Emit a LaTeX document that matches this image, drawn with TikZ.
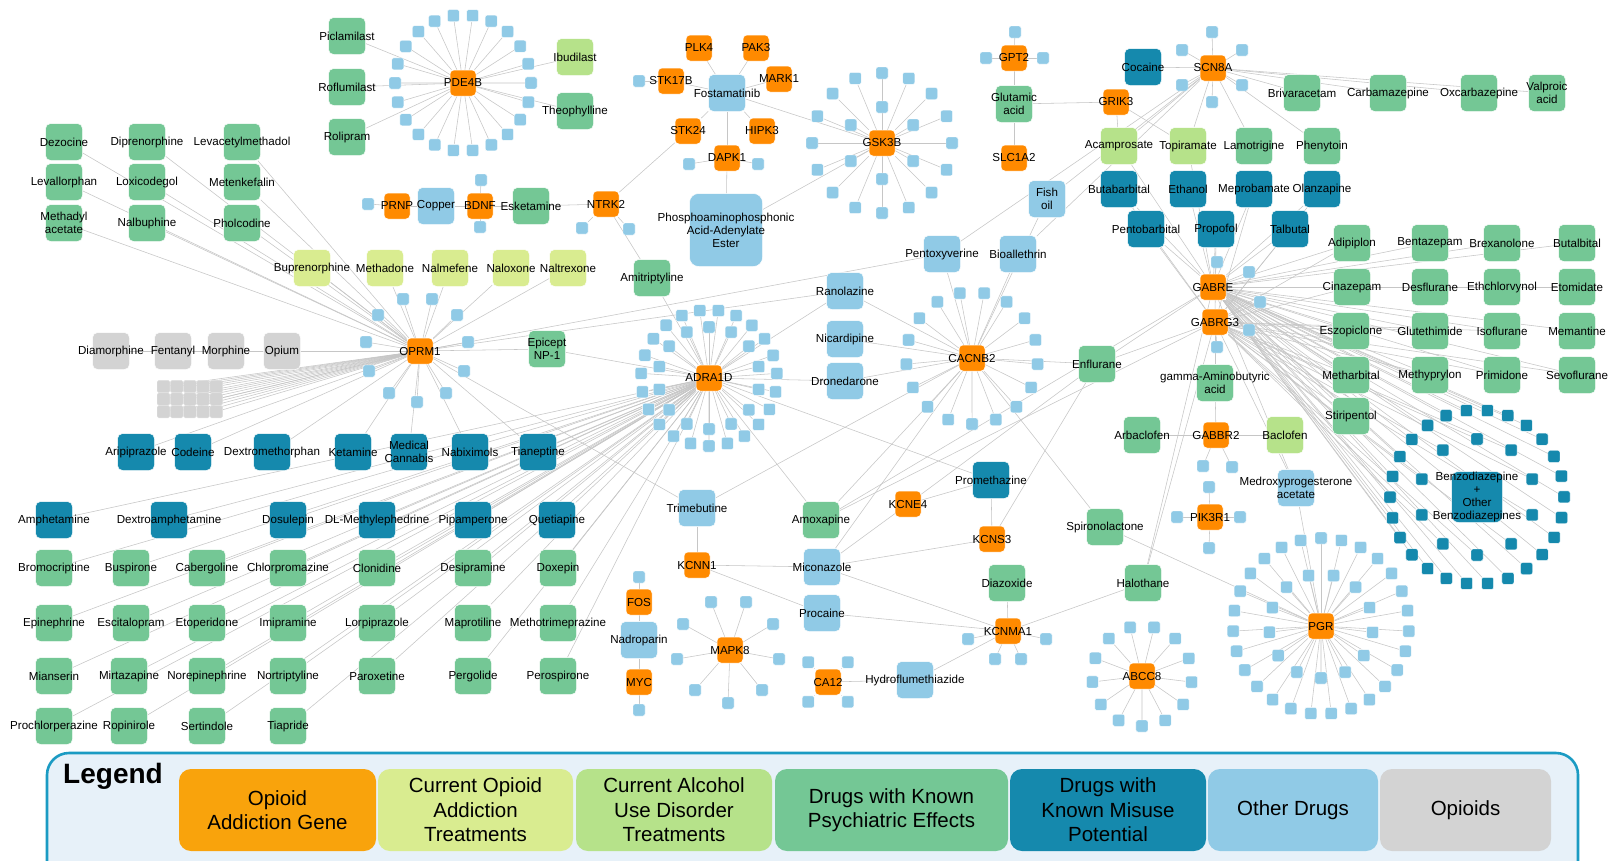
\documentclass[tikz,border=0pt]{standalone}
\usepackage{fontspec}
\setmainfont{Liberation Sans}
\usetikzlibrary{calc}
\pgfdeclarelayer{back}
\pgfdeclarelayer{bg}
\pgfsetlayers{back,bg,main}
\definecolor{cgene}{HTML}{FF8A00}
\definecolor{copt}{HTML}{D9EC90}
\definecolor{calco}{HTML}{B6E28A}
\definecolor{cpsy}{HTML}{74C795}
\definecolor{cmis}{HTML}{1589AD}
\definecolor{coth}{HTML}{90CAE6}
\definecolor{cgry}{HTML}{D3D3D3}
\definecolor{cedge}{HTML}{C6C6C6}
\definecolor{legb}{HTML}{1B9BC3}
\definecolor{legf}{HTML}{E7F1F9}
\definecolor{lgene}{HTML}{F9A30C}
\newcommand\nd[5]{\node[#1,label={[lbl]center:{#5}}] (#2) at (#3,#4) {};}
\newcommand\satring[6]{\foreach \i in {1,...,#3}{\node[#6] (#2\i) at ($(#1.center)+({#5+360*(\i-1)/#3}:#4pt)$) {};}}
\newcommand\sats[2]{\foreach \x/\y [count=\k] in {#2}{\node[sat] (#1\k) at (\x,\y) {};}}
\newcommand\spokes[3]{\foreach \i in {1,...,#3}{\draw[edge] (#1) -- (#2\i);}}
\newcommand\ed[2]{\foreach \tg in {#2}{\draw[edge] (#1) -- (\tg);}}
\begin{document}
\begin{tikzpicture}[x=1pt,y=-1pt,
  box/.style={rectangle,rounded corners=5pt,minimum width=37pt,minimum height=37pt,inner sep=0pt,draw=white,line width=0.5pt},
  psy/.style={box,fill=cpsy}, mis/.style={box,fill=cmis}, oth/.style={box,fill=coth},
  opt/.style={box,fill=copt}, alc/.style={box,fill=calco}, gry/.style={box,fill=cgry},
  gene/.style={box,fill=cgene,minimum width=26pt,minimum height=26pt,rounded corners=4pt},
  sat/.style={rectangle,rounded corners=2pt,minimum width=12pt,minimum height=12pt,inner sep=0pt,fill=coth,draw=white,line width=0.4pt},
  satd/.style={sat,fill=cmis},
  gsq/.style={rectangle,rounded corners=1.5pt,minimum width=12.6pt,minimum height=12.2pt,inner sep=0pt,fill=cgry,draw=white!88!black,line width=0.4pt},
  lbl/.style={font=\fontsize{11.6}{13}\selectfont,align=center,inner sep=0pt,text=black},
  edge/.style={draw=cedge,line width=0.55pt},
  lgb/.style={rectangle,rounded corners=12pt,minimum height=82pt,inner sep=0pt,align=center,font=\fontsize{20.5}{24.5}\selectfont}]
\useasboundingbox (0,0) rectangle (1608,860);
\begin{pgfonlayer}{back}
\fill[white] (0,0) rectangle (1608,860);
\end{pgfonlayer}
% ---------- top-left opioid-related drugs
\nd{psy}{dez}{64}{142}{Dezocine}
\nd{psy}{lev}{64}{182}{Levallorphan}
\nd{psy}{mac}{64}{223}{Methadyl\\acetate}
\nd{psy}{dip}{147}{142}{Diprenorphine}
\nd{psy}{lox}{147}{182}{Loxicodegol}
\nd{psy}{nal}{147}{223}{Nalbuphine}
\nd{psy}{lam}{242}{142}{Levacetylmethadol}
\nd{psy}{met}{242}{182}{Metenkefalin}
\nd{psy}{pho}{242}{223}{Pholcodine}
\nd{opt}{bup}{312}{268}{Buprenorphine}
\nd{opt}{mtd}{385}{268}{Methadone}
\nd{opt}{nmf}{450}{268}{Nalmefene}
\nd{opt}{nlx}{511}{268}{Naloxone}
\nd{opt}{ntx}{568}{268}{Naltrexone}
% ---------- PDE4B
\nd{psy}{pic}{347}{36}{Piclamilast}
\nd{psy}{rof}{347}{87}{Roflumilast}
\nd{psy}{rol}{347}{137}{Rolipram}
\nd{gene}{pde}{463}{83}{PDE4B}
\nd{alc}{ibu}{575}{57}{Ibudilast}
\nd{psy}{the}{575}{111}{Theophylline}
\satring{pde}{pd}{22}{68}{98.2}{sat}
% ---------- PRNP / BDNF / NTRK2
\nd{gene}{prnp}{397}{206}{PRNP}
\sats{prs}{368/204}
\nd{oth}{cop}{436}{206}{Copper}
\nd{gene}{bdnf}{480}{206}{BDNF}
\sats{bd}{481/180,480/227}
\nd{psy}{esk}{531}{206}{Esketamine}
\nd{gene}{ntrk}{606}{204}{NTRK2}
\sats{nt}{582/228,629/229}
\nd{psy}{ami}{652}{278}{Amitriptyline}
% ---------- Fostamatinib
\nd{oth}{fost}{727}{93}{Fostamatinib}
\nd{gene}{plk}{699}{48}{PLK4}
\nd{gene}{pak}{756}{48}{PAK3}
\nd{gene}{stkb}{671}{81}{STK17B}
\sats{sk}{639/81}
\nd{gene}{mark}{779}{79}{MARK1}
\nd{gene}{stkf}{688}{131}{STK24}
\nd{gene}{hipk}{762}{131}{HIPK3}
\nd{gene}{dapk}{727}{158}{DAPK1}
\sats{dp}{689/164,758/164}
\node[oth,minimum width=73pt,minimum height=73pt,rounded corners=9pt,label={[lbl]center:{Phosphoaminophosphonic\\Acid-Adenylate\\Ester}}] (paa) at (726,230) {};
% ---------- GSK3B
\nd{gene}{gsk}{882}{143}{GSK3B}
\satring{gsk}{gk}{16}{70}{90}{sat}
\satring{gsk}{gi}{6}{36}{90}{sat}
% ---------- GPT2 / glutamate
\nd{gene}{gpt}{1014}{58}{GPT2}
\sats{gp}{1015/32,986/58,1043/58}
\nd{psy}{glu}{1014}{104}{Glutamic\\acid}
\nd{gene}{slc}{1014}{158}{SLC1A2}
\nd{gene}{grik}{1116}{102}{GRIK3}
% ---------- SCN8A
\nd{mis}{coc}{1143}{67}{Cocaine}
\nd{gene}{scn}{1213}{68}{SCN8A}
\sats{sc}{1212/32,1242/50,1242/85,1212/102,1182/50,1182/85}
\nd{psy}{bri}{1302}{93}{Brivaracetam}
\nd{psy}{car}{1388}{93}{Carbamazepine}
\nd{psy}{oxc}{1479}{93}{Oxcarbazepine}
\nd{psy}{val}{1547}{93}{Valproic\\acid}
\nd{alc}{aca}{1119}{146}{Acamprosate}
\nd{alc}{top}{1188}{146}{Topiramate}
\nd{psy}{lmt}{1254}{146}{Lamotrigine}
\nd{psy}{phe}{1322}{146}{Phenytoin}
\nd{mis}{but}{1119}{189}{Butabarbital}
\nd{mis}{eth}{1188}{189}{Ethanol}
\nd{mis}{mep}{1254}{189}{Meprobamate}
\nd{mis}{ola}{1322}{189}{Olanzapine}
\nd{mis}{pen}{1146}{229}{Pentobarbital}
\nd{mis}{pro}{1216}{229}{Propofol}
\nd{mis}{tal}{1290}{229}{Talbutal}
\nd{oth}{fish}{1047}{199}{Fish\\oil}
\nd{oth}{pxv}{942}{254}{Pentoxyverine}
\nd{oth}{bio}{1018}{254}{Bioallethrin}
% ---------- right grid
\nd{psy}{adi}{1352}{243}{Adipiplon}
\nd{psy}{ben}{1430}{243}{Bentazepam}
\nd{psy}{bre}{1502}{243}{Brexanolone}
\nd{psy}{bub}{1577}{243}{Butalbital}
\nd{psy}{cin}{1352}{287}{Cinazepam}
\nd{psy}{dsf}{1430}{287}{Desflurane}
\nd{psy}{ech}{1502}{287}{Ethchlorvynol}
\nd{psy}{etm}{1577}{287}{Etomidate}
\nd{psy}{esz}{1351}{331}{Eszopiclone}
\nd{psy}{glt}{1430}{331}{Glutethimide}
\nd{psy}{iso}{1502}{331}{Isoflurane}
\nd{psy}{mem}{1577}{331}{Memantine}
\nd{psy}{mtb}{1351}{375}{Metharbital}
\nd{psy}{mpy}{1430}{375}{Methyprylon}
\nd{psy}{pri}{1502}{375}{Primidone}
\nd{psy}{sev}{1577}{375}{Sevoflurane}
\nd{psy}{sti}{1351}{416}{Stiripentol}
% ---------- GABA genes
\nd{gene}{gabre}{1213}{287}{GABRE}
\nd{gene}{gabrg}{1215}{322}{GABRG3}
\sats{ge}{1217/262,1249/272}
\sats{gg}{1260/302,1249/330,1217/347}
\nd{psy}{gaba}{1215}{383}{gamma-Aminobutyric\\acid}
\nd{gene}{gabbr}{1216}{435}{GABBR2}
\sats{gb}{1203/466,1232/467}
\nd{psy}{arb}{1142}{435}{Arbaclofen}
\nd{alc}{bac}{1285}{435}{Baclofen}
\nd{oth}{mdx}{1296}{488}{Medroxyprogesterone\\acetate}
\nd{gene}{pik}{1210}{517}{PIK3R1}
\sats{pk}{1209/487,1240/517,1209/548,1177/517}
\node[mis,minimum width=51pt,minimum height=51pt,rounded corners=7pt,label={[lbl]center:{Benzodiazepine\\+\\Other\\Benzodiazepines}}] (bz) at (1477,497) {};
\satring{bz}{bo}{26}{87}{97}{satd}
\satring{bz}{bi}{10}{58}{90}{satd}
% ---------- PGR / ABCC8
\nd{gene}{pgr}{1321}{626}{PGR}
\satring{pgr}{po}{27}{88}{90}{sat}
\satring{pgr}{pi}{13}{52}{103.8}{sat}
\nd{gene}{abcc}{1142}{676}{ABCC8}
\satring{abcc}{ab}{13}{50}{103.8}{sat}
% ---------- CACNB2 and channel genes
\nd{oth}{ran}{845}{291}{Ranolazine}
\nd{oth}{nic}{845}{339}{Nicardipine}
\nd{oth}{dro}{845}{381}{Dronedarone}
\nd{gene}{cac}{972}{358}{CACNB2}
\satring{cac}{cb}{17}{66}{100.6}{sat}
\nd{psy}{enf}{1097}{364}{Enflurane}
\nd{mis}{prm}{991}{480}{Promethazine}
\nd{gene}{kcne}{908}{504}{KCNE4}
\nd{gene}{kcns}{992}{539}{KCNS3}
\nd{psy}{amo}{821}{520}{Amoxapine}
\nd{psy}{spi}{1105}{527}{Spironolactone}
\nd{oth}{mic}{822}{567}{Miconazole}
\nd{oth}{prc}{822}{613}{Procaine}
\nd{psy}{dzx}{1007}{583}{Diazoxide}
\nd{psy}{hal}{1143}{583}{Halothane}
\nd{gene}{kcnm}{1008}{631}{KCNMA1}
\sats{km}{968/639,1046/639,995/659,1021/659}
\nd{gene}{ca}{828}{682}{CA12}
\satring{ca}{cs}{4}{28}{45}{sat}
\nd{oth}{hyd}{915}{680}{Hydroflumethiazide}
% ---------- ADRA1D and neighbours
\nd{psy}{epc}{547}{349}{Epicept\\NP-1}
\nd{gene}{adra}{709}{378}{ADRA1D}
\satring{adra}{ao}{23}{68}{97.8}{sat}
\satring{adra}{ai}{14}{51}{90}{sat}
\nd{oth}{tri}{697}{508}{Trimebutine}
\nd{gene}{kcnn}{697}{565}{KCNN1}
\nd{gene}{fosg}{639}{602}{FOS}
\sats{fs}{639/577}
\nd{oth}{nad}{639}{640}{Nadroparin}
\nd{gene}{myc}{639}{682}{MYC}
\sats{my}{639/710}
\nd{gene}{mapk}{730}{650}{MAPK8}
\sats{mk}{711/602,746/602,683/624,773/624,677/659,779/659,695/690,762/690,728/703}
% ---------- OPRM1
\nd{gene}{oprm}{420}{351}{OPRM1}
\sats{op}{403/299,432/299,378/315,457/315,366/342,468/342,369/371,464/371,389/393,446/393,417/402}
\nd{gry}{dia}{111}{351}{Diamorphine}
\nd{gry}{fen}{173}{351}{Fentanyl}
\nd{gry}{mor}{226}{351}{Morphine}
\nd{gry}{opi}{282}{351}{Opium}
\foreach \cc in {0,...,4}{\foreach \rr in {0,1,2}{\node[gsq] (g\cc\rr) at ({163.5+13.2*\cc},{386.5+12.6*\rr}) {};}}
% ---------- bottom-left grid
\nd{mis}{ari}{136}{452}{Aripiprazole}
\nd{mis}{cod}{193}{452}{Codeine}
\nd{mis}{dxm}{272}{452}{Dextromethorphan}
\nd{mis}{ket}{353}{452}{Ketamine}
\nd{mis}{mca}{409}{452}{Medical\\Cannabis}
\nd{mis}{nab}{470}{452}{Nabiximols}
\nd{mis}{tia}{538}{452}{Tianeptine}
\nd{mis}{amp}{54}{520}{Amphetamine}
\nd{mis}{dxa}{169}{520}{Dextroamphetamine}
\nd{mis}{dos}{288}{520}{Dosulepin}
\nd{mis}{dlm}{377}{520}{DL-Methylephedrine}
\nd{mis}{pip}{473}{520}{Pipamperone}
\nd{mis}{que}{557}{520}{Quetiapine}
\nd{psy}{bro}{54}{568}{Bromocriptine}
\nd{psy}{bus}{131}{568}{Buspirone}
\nd{psy}{cab}{207}{568}{Cabergoline}
\nd{psy}{chl}{288}{568}{Chlorpromazine}
\nd{psy}{clo}{377}{568}{Clonidine}
\nd{psy}{des}{473}{568}{Desipramine}
\nd{psy}{dox}{558}{568}{Doxepin}
\nd{psy}{epn}{54}{623}{Epinephrine}
\nd{psy}{esc}{131}{623}{Escitalopram}
\nd{psy}{eto}{207}{623}{Etoperidone}
\nd{psy}{imi}{288}{623}{Imipramine}
\nd{psy}{lor}{377}{623}{Lorpiprazole}
\nd{psy}{map}{473}{623}{Maprotiline}
\nd{psy}{mtm}{558}{623}{Methotrimeprazine}
\nd{psy}{mia}{54}{676}{Mianserin}
\nd{psy}{mir}{129}{676}{Mirtazapine}
\nd{psy}{nor}{207}{676}{Norepinephrine}
\nd{psy}{nrt}{288}{676}{Nortriptyline}
\nd{psy}{par}{377}{676}{Paroxetine}
\nd{psy}{per}{473}{676}{Pergolide}
\nd{psy}{pes}{558}{676}{Perospirone}
\nd{psy}{pch}{54}{726}{Prochlorperazine}
\nd{psy}{rop}{129}{726}{Ropinirole}
\nd{psy}{ser}{207}{726}{Sertindole}
\nd{psy}{tip}{288}{726}{Tiapride}
% ---------- connectors
\begin{pgfonlayer}{bg}
\ed{oprm}{dez,lev,mac,dip,lox,nal,lam,met,pho,bup,mtd,nmf,nlx,ntx,dia,fen,mor,opi,ari,cod,dxm,ket,mca,nab,tia,epc,tri,pxv,ran}
\foreach \cc in {0,...,4}{\foreach \rr in {0,1,2}{\draw[edge] (oprm) -- (g\cc\rr);}}
\spokes{oprm}{op}{11}
\ed{adra}{amp,dxa,dos,dlm,pip,que,bro,bus,cab,chl,clo,des,dox,epn,esc,eto,imi,lor,map,mtm,mia,mir,nor,nrt,par,per,pes,pch,rop,ser,tip,epc,ami,amo,ran,dro,prm}
\spokes{adra}{ao}{23}
\spokes{adra}{ai}{14}
\ed{pde}{pic,rof,rol,ibu,the}
\spokes{pde}{pd}{22}
\ed{prnp}{prs1,cop}
\ed{bdnf}{cop,esk,bd1,bd2}
\ed{ntrk}{esk,ami,stkf,nt1,nt2}
\ed{fost}{plk,pak,stkb,mark,stkf,hipk,dapk,gsk}
\ed{stkb}{sk1}
\ed{dapk}{paa,dp1,dp2}
\ed{paa}{gsk}
\spokes{gsk}{gk}{16}
\spokes{gsk}{gi}{6}
\ed{gpt}{glu,gp1,gp2,gp3}
\ed{slc}{glu}
\ed{grik}{glu,aca,top}
\ed{scn}{coc,bri,car,oxc,val,lmt,phe,top,aca,pxv,bio,fish}
\spokes{scn}{sc}{6}
\ed{gabre}{aca,top,but,eth,mep,ola,pen,pro,tal,adi,ben,bre,bub,cin,dsf,ech,etm,esz,glt,iso,mem,mtb,mpy,pri,sev,sti,enf,hal,amo,mdx}
\ed{gabrg}{but,pen,pro,mep,ola,tal,adi,cin,esz,mtb,sti,glt,mpy,iso,pri,sev,enf,hal,amo,gaba,mdx}
\spokes{gabre}{ge}{2}
\spokes{gabrg}{gg}{3}
\spokes{gabre}{bo}{26}
\spokes{gabrg}{bi}{10}
\ed{gabbr}{gaba,bac,arb,gb1,gb2}
\spokes{pik}{pk}{4}
\ed{cac}{ran,nic,dro,pxv,bio,fish,enf,amo,mic,spi,tri}
\spokes{cac}{cb}{17}
\ed{kcne}{prm,mic,enf}
\ed{kcns}{prm,mic,enf}
\ed{kcnn}{tri,mic,prc}
\ed{kcnm}{mic,prc,dzx,hal,hyd}
\spokes{kcnm}{km}{4}
\ed{ca}{hyd}
\spokes{ca}{cs}{4}
\ed{fosg}{nad,fs1}
\ed{myc}{nad,my1}
\spokes{mapk}{mk}{9}
\spokes{abcc}{ab}{13}
\ed{pgr}{mdx,spi}
\spokes{pgr}{po}{27}
\spokes{pgr}{pi}{13}
\end{pgfonlayer}
% ---------- legend
\begin{scope}
\clip (0,0) rectangle (1608,860);
\draw[rounded corners=22pt,line width=2.6pt,draw=legb,fill=legf] (47,753) rectangle (1578,900);
\end{scope}
\node[anchor=base,font=\bfseries\fontsize{28}{30}\selectfont] (legt) at (113,783) {Legend};
\node[lgb,fill=lgene,minimum width=197pt] (lg1) at (277.5,810) {Opioid\\Addiction Gene};
\node[lgb,fill=copt,minimum width=195pt] (lg2) at (475.5,810) {Current Opioid\\Addiction\\Treatments};
\node[lgb,fill=calco,minimum width=196pt] (lg3) at (674,810) {Current Alcohol\\Use Disorder\\Treatments};
\node[lgb,fill=cpsy,minimum width=233pt] (lg4) at (891.5,810) {Drugs with Known\\Psychiatric Effects};
\node[lgb,fill=cmis,minimum width=196pt] (lg5) at (1108,810) {Drugs with\\Known Misuse\\Potential};
\node[lgb,fill=coth,minimum width=170pt] (lg6) at (1293,810) {Other Drugs};
\node[lgb,fill=cgry,minimum width=171pt] (lg7) at (1465.5,810) {Opioids};
\end{tikzpicture}
\end{document}
